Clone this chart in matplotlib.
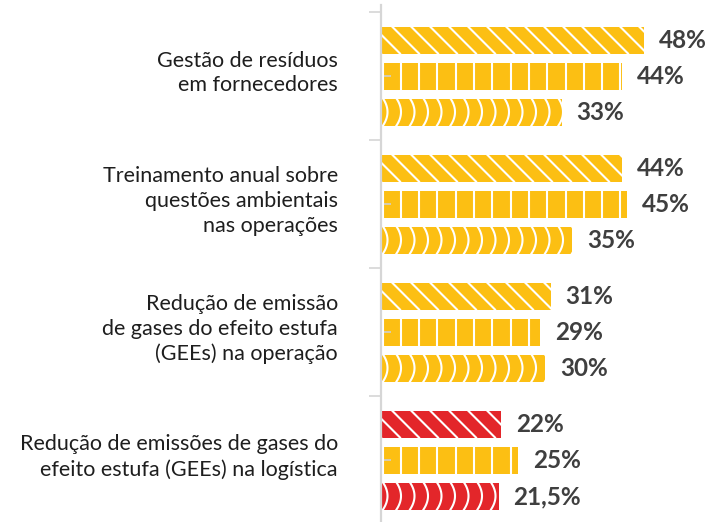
import matplotlib.pyplot as plt
import numpy as np
from matplotlib.lines import Line2D

categories = [
    "Gestão de resíduos\nem fornecedores",
    "Treinamento anual sobre\nquestões ambientais\nnas operações",
    "Redução de emissão\nde gases do efeito estufa\n(GEEs) na operação",
    "Redução de emissões de gases do\nefeito estufa (GEEs) na logística",
]
# three series per category (top, middle, bottom bar)
series_a = [48, 44, 31, 22]
series_b = [44, 45, 29, 25]
series_c = [33, 35, 30, 21.5]
highlight = [False, False, False, True]

YELLOW = "#FCBF13"
RED = "#E3262A"
TEXT_DARK = "#3f3f3f"
AXIS_GRAY = "#d6d6d6"

PX_PER_PCT = 5.47
PX_PER_GROUP = 128.0
BAR_OFFSET = 36 / PX_PER_GROUP
BAR_H = 27 / PX_PER_GROUP

fig = plt.figure(figsize=(7.2, 5.22), dpi=100)
ax = fig.add_axes([381 / 720, 0, 339 / 720, 1])
ax.set_xlim(0, 339 / PX_PER_PCT)
ax.set_ylim((522 - 76) / PX_PER_GROUP, -76 / PX_PER_GROUP)

dx = 1 / PX_PER_PCT      # one pixel in x data units
dy = 1 / PX_PER_GROUP    # one pixel in y data units


def add_diagonal(bar, x1, yc):
    top, bot = yc - BAR_H / 2, yc + BAR_H / 2
    for xs in np.arange(-27 * dx, x1, 19 * dx):
        ln = Line2D([xs, xs + 27 * dx], [top, bot], color="white", lw=1.5, zorder=2)
        ax.add_line(ln)
        ln.set_clip_path(bar)


def add_vertical(bar, x1, yc):
    top, bot = yc - BAR_H / 2, yc + BAR_H / 2
    for xs in np.arange(1.5 * dx, x1, 18.3 * dx):
        ln = Line2D([xs, xs], [top, bot], color="white", lw=1.5, zorder=2)
        ax.add_line(ln)
        ln.set_clip_path(bar)


def add_arcs(bar, x1, yc):
    t = np.linspace(-1, 1, 30)
    ys = yc + t * BAR_H / 2
    for xs in np.arange(2 * dx, x1, 13.5 * dx):
        ln = Line2D(xs + 4.5 * dx * (1 - t ** 2), ys, color="white", lw=1.5, zorder=2)
        ax.add_line(ln)
        ln.set_clip_path(bar)


groups = np.arange(len(categories))
for i, g in enumerate(groups):
    vals = [series_a[i], series_b[i], series_c[i]]
    cols = [RED if highlight[i] else YELLOW, YELLOW, RED if highlight[i] else YELLOW]
    deco = [add_diagonal, add_vertical, add_arcs]
    for k in range(3):
        yc = g + (k - 1) * BAR_OFFSET
        bar = ax.barh(yc, vals[k], height=BAR_H, color=cols[k], zorder=1)[0]
        deco[k](bar, vals[k], yc)
        txt = f"{vals[k]:g}".replace(".", ",") + "%"
        ax.text(vals[k] + 15 * dx, yc + 1 * dy, txt, ha="left", va="center",
                fontsize=17.5, fontweight="bold", color=TEXT_DARK,
                family=["Lato", "DejaVu Sans"])
    ax.text(-43 * dx, g - 3 * dy, categories[i], ha="right", va="center",
            multialignment="right", fontsize=15.5, fontweight="normal",
            color="#1e1e1e", linespacing=1.3, family=["Lato", "DejaVu Sans"],
            clip_on=False)

for s in ["top", "right", "bottom"]:
    ax.spines[s].set_visible(False)
ax.spines["left"].set_color(AXIS_GRAY)
ax.spines["left"].set_linewidth(1.6)
ax.spines["left"].set_bounds(-71 / PX_PER_GROUP, (522 - 76) / PX_PER_GROUP)
ax.set_xticks([])
ax.set_yticks(groups - 0.5)
ax.set_yticklabels([])
ax.set_yticks(groups, minor=True)
ax.tick_params(axis="y", which="major", length=8.5, width=1.2, color=AXIS_GRAY)
ax.tick_params(axis="y", which="minor", direction="in", length=7, width=1.2, color="#cfcfcf")

plt.savefig("out.png", dpi=100)
plt.close()
